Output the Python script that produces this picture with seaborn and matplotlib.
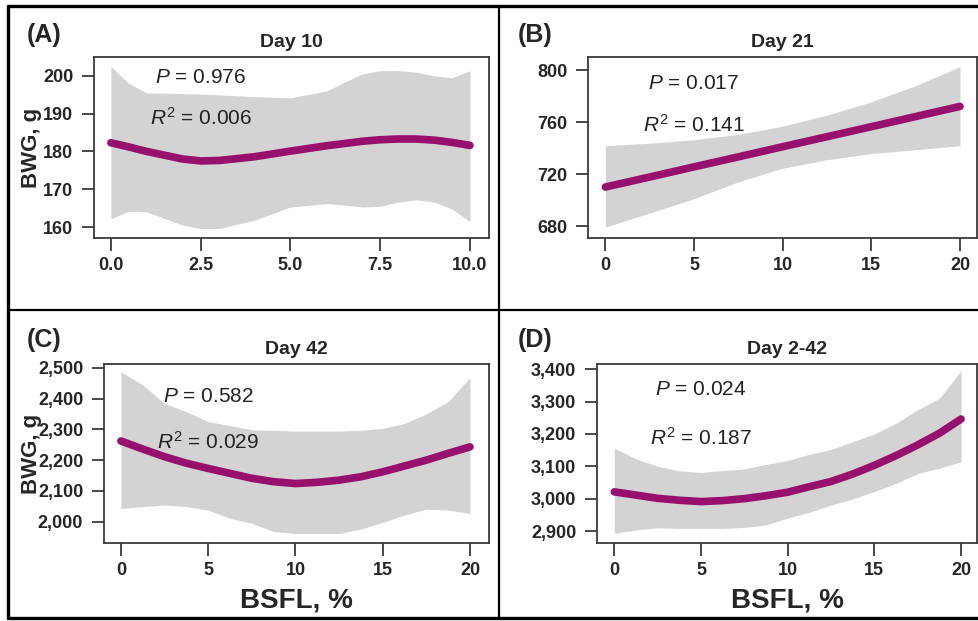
import matplotlib
matplotlib.use('Agg')
import matplotlib.pyplot as plt
import numpy as np
import pandas as pd
import seaborn as sns

sns.set_theme(style='white')
plt.rcParams['font.family'] = ['Liberation Sans', 'DejaVu Sans']
plt.rcParams['mathtext.fontset'] = 'custom'
plt.rcParams['mathtext.rm'] = 'Liberation Sans'
plt.rcParams['mathtext.it'] = 'Liberation Sans:italic'

# Day 10
x_a = [0, 0.5, 1, 2, 2.5, 3, 4, 5, 6, 6.5, 7, 7.5, 8, 8.5, 9, 9.5, 10]
fit_a = [182.3, 181.2, 180.0, 178.0, 177.5, 177.6, 178.6, 180.1, 181.5, 182.1,
         182.7, 183.1, 183.3, 183.3, 183.0, 182.4, 181.6]
upper_a = [202.5, 198.0, 195.5, 195.3, 195.2, 195.0, 194.5, 194.2, 196.0, 198.3,
           200.5, 201.4, 201.4, 201.0, 200.0, 199.5, 201.4]
lower_a = [162.2, 164.2, 164.0, 160.5, 159.6, 159.6, 161.8, 165.3, 166.2, 165.8,
           165.3, 165.5, 166.6, 167.2, 166.6, 164.8, 161.4]

# Day 21
x_b = [0, 2.5, 5, 7.5, 10, 12.5, 15, 17.5, 20]
fit_b = [710.0, 717.7, 725.5, 733.2, 741.0, 748.7, 756.4, 764.2, 772.0]
upper_b = [741.8, 743.7, 746.4, 750.5, 756.8, 765.3, 775.5, 788.0, 802.5]
lower_b = [679.2, 690.0, 701.0, 714.0, 724.5, 731.0, 735.7, 738.7, 741.8]

# Day 42
x_c = [0, 1.25, 2.5, 3.75, 5, 6.25, 7.5, 8.75, 10, 11.25, 12.5, 13.75, 15,
       16.25, 17.5, 18.75, 20]
fit_c = [2262, 2236, 2211, 2190, 2173, 2157, 2141, 2130, 2124, 2128, 2135, 2146,
         2162, 2181, 2200, 2222, 2243]
upper_c = [2487, 2444, 2384, 2357, 2325, 2312, 2298, 2297, 2294, 2294, 2294, 2297,
           2303, 2319, 2350, 2390, 2468]
lower_c = [2043, 2049, 2054, 2049, 2038, 2011, 1995, 1968, 1962, 1962, 1962, 1976,
           1998, 2022, 2041, 2038, 2027]

# Day 2-42
x_d = [0, 1.25, 2.5, 3.75, 5, 6.25, 7.5, 8.75, 10, 11.25, 12.5, 13.75, 15,
       16.25, 17.5, 18.75, 20]
fit_d = [3021, 3011, 3001, 2995, 2991, 2994, 3000, 3009, 3020, 3037, 3053, 3076,
         3103, 3133, 3166, 3202, 3246]
upper_d = [3156, 3123, 3100, 3086, 3081, 3087, 3092, 3106, 3118, 3137, 3152, 3176,
           3200, 3233, 3275, 3310, 3395]
lower_d = [2893, 2903, 2910, 2908, 2908, 2908, 2911, 2919, 2940, 2958, 2980, 2999,
           3022, 3047, 3078, 3094, 3114]

panels = [
    dict(tag='(A)', title='Day 10', x=x_a, fit=fit_a, up=upper_a, lo=lower_a,
         p='0.976', r2='0.006', xticks=[0, 2.5, 5, 7.5, 10],
         xlabels=['0.0', '2.5', '5.0', '7.5', '10.0'],
         yticks=[160, 170, 180, 190, 200], xlim=(-0.47, 10.53), ylim=(157.1, 205.0)),
    dict(tag='(B)', title='Day 21', x=x_b, fit=fit_b, up=upper_b, lo=lower_b,
         p='0.017', r2='0.141', xticks=[0, 5, 10, 15, 20],
         xlabels=['0', '5', '10', '15', '20'],
         yticks=[680, 720, 760, 800], xlim=(-0.98, 20.96), ylim=(670.8, 810.0)),
    dict(tag='(C)', title='Day 42', x=x_c, fit=fit_c, up=upper_c, lo=lower_c,
         p='0.582', r2='0.029', xticks=[0, 5, 10, 15, 20],
         xlabels=['0', '5', '10', '15', '20'],
         yticks=[2000, 2100, 2200, 2300, 2400, 2500], xlim=(-0.97, 21.09), ylim=(1931, 2512)),
    dict(tag='(D)', title='Day 2-42', x=x_d, fit=fit_d, up=upper_d, lo=lower_d,
         p='0.024', r2='0.187', xticks=[0, 5, 10, 15, 20],
         xlabels=['0', '5', '10', '15', '20'],
         yticks=[2900, 3000, 3100, 3200, 3300, 3400], xlim=(-1.0, 20.92), ylim=(2863, 3416)),
]

W, H = 979, 621
boxes = [(94, 489, 57, 238), (588, 977, 57, 238), (104, 489, 364, 543), (597, 977, 364, 543)]
text_pos = [(0.154, 0.884, 0.142, 0.663), (0.154, 0.856, 0.141, 0.624),
            (0.153, 0.816, 0.138, 0.564), (0.153, 0.855, 0.139, 0.587)]
tag_pos = [(-0.17, 1.122), (-0.18, 1.122), (-0.20, 1.134), (-0.208, 1.134)]

fig = plt.figure(figsize=(W / 100, H / 100), dpi=100)
purple = '#98106E'
edge = '#3a3a3a'

for i, (pan, (l, r, t, b)) in enumerate(zip(panels, boxes)):
    ax = fig.add_axes([l / W, 1 - b / H, (r - l) / W, (b - t) / H])
    df = pd.DataFrame({'x': pan['x'], 'fit': pan['fit']})
    ax.fill_between(pan['x'], pan['lo'], pan['up'], color='#D3D3D3', lw=0)
    sns.lineplot(data=df, x='x', y='fit', ax=ax, color=purple, linewidth=5.5,
                 legend=False)
    ax.set_xlim(*pan['xlim'])
    ax.set_ylim(*pan['ylim'])
    ax.set_xticks(pan['xticks'], pan['xlabels'], fontweight='bold', fontsize=13)
    ylabels = [f'{v:,}' for v in pan['yticks']]
    ax.set_yticks(pan['yticks'], ylabels, fontweight='bold', fontsize=13)
    ax.tick_params(direction='out', length=9, width=1.3, color=edge,
                   bottom=True, left=True)
    ax.tick_params(axis='x', pad=5)
    ax.tick_params(axis='y', pad=6)
    for s in ax.spines.values():
        s.set_visible(True)
        s.set_color(edge)
        s.set_linewidth(1.3)
    ax.set_xlabel('')
    ax.set_ylabel('')
    ax.set_title(pan['title'], fontsize=14, fontweight='bold', pad=7)
    px, py, rx, ry = text_pos[i]
    ax.text(px, py, r'$P$ = ' + pan['p'], transform=ax.transAxes, fontsize=15,
            ha='left', va='center', color='#222222')
    ax.text(rx, ry, r'$R^2$ = ' + pan['r2'], transform=ax.transAxes, fontsize=15,
            ha='left', va='center', color='#222222')
    tx, ty = tag_pos[i]
    ax.text(tx, ty, pan['tag'], transform=ax.transAxes, fontsize=18,
            fontweight='bold', ha='left', va='center')
    if i in (0, 2):
        ax.text((32 - l) / (r - l), 0.5, 'BWG, g', transform=ax.transAxes,
                rotation=90, fontsize=16, fontweight='bold', ha='center', va='center')
    if i in (2, 3):
        ax.set_xlabel('BSFL, %', fontsize=20, fontweight='bold')
        ax.xaxis.set_label_coords(0.5, -0.25)
        ax.xaxis.label.set_va('top')

# panel frames
def fline(x0, y0, x1, y1, lw):
    fig.add_artist(plt.Line2D([x0 / W, x1 / W], [1 - y0 / H, 1 - y1 / H],
                              transform=fig.transFigure, color='black', lw=lw))

fline(8, 6, 990, 6, 2.4)
fline(8, 6, 8, 618, 2.4)
fline(8, 618, 990, 618, 2.4)
fline(499, 6, 499, 618, 1.6)
fline(8, 310, 990, 310, 1.6)

fig.savefig('out.png', dpi=100)
